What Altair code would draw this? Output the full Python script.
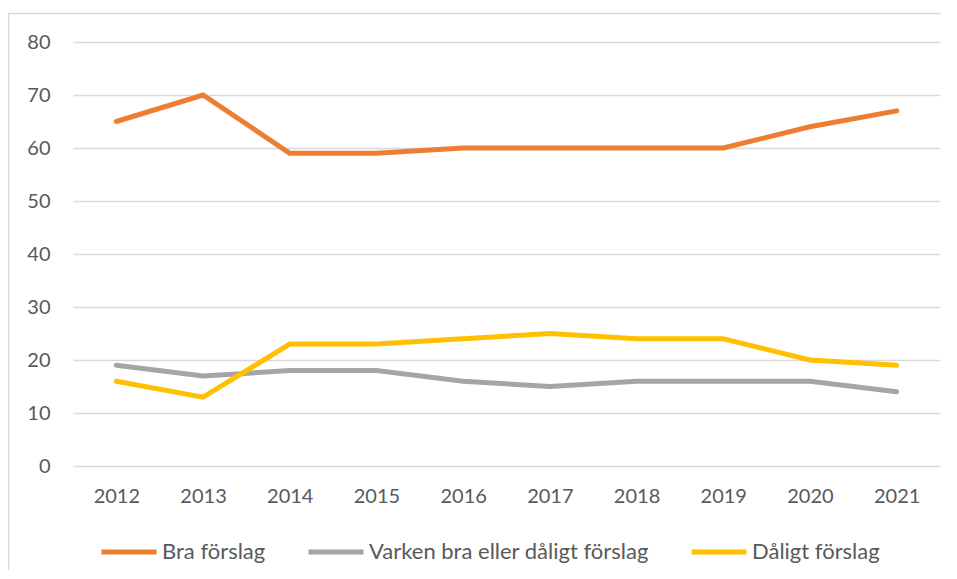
import altair as alt
import pandas as pd

years = ["2012", "2013", "2014", "2015", "2016", "2017", "2018", "2019", "2020", "2021"]
series_names = ["Bra förslag", "Varken bra eller dåligt förslag", "Dåligt förslag"]
bra = [65, 70, 59, 59, 60, 60, 60, 60, 64, 67]
varken = [19, 17, 18, 18, 16, 15, 16, 16, 16, 14]
daligt = [16, 13, 23, 23, 24, 25, 24, 24, 20, 19]
colors = ["#ED7D31", "#A5A5A5", "#FFC000"]
y_ticks = [0, 10, 20, 30, 40, 50, 60, 70, 80]

rows = []
for name, vals in zip(series_names, [bra, varken, daligt]):
    for yr, v in zip(years, vals):
        rows.append({"year": yr, "value": v, "series": name})
df = pd.DataFrame(rows)

FONT = "Lato"
W, H = 867, 424

frame = alt.Chart(pd.DataFrame({"a": [0]})).mark_rect(
    fill=None, stroke="#d9d9d9", strokeWidth=1.5, clip=False
).encode(
    x=alt.value(-64.5), x2=alt.value(W + 40), y=alt.value(-28.5), y2=alt.value(H + 200)
)

lines = alt.Chart(df).mark_line(strokeWidth=5, strokeCap="round", strokeJoin="miter").encode(
    x=alt.X("year:O", sort=years, scale=alt.Scale(type="point", padding=0.5),
            axis=alt.Axis(title=None, labelAngle=0, labelFontSize=20, labelColor="#595959",
                          labelFont=FONT, labelPadding=20, ticks=False, domain=False, grid=False)),
    y=alt.Y("value:Q", scale=alt.Scale(domain=[0, 80], nice=False),
            axis=alt.Axis(title=None, values=y_ticks, labelFontSize=20, labelColor="#595959",
                          labelFont=FONT, labelPadding=23, ticks=False, domain=False,
                          gridColor="#d9d9d9", gridWidth=1.3)),
    color=alt.Color("series:N", sort=series_names,
                    scale=alt.Scale(domain=series_names, range=colors),
                    legend=alt.Legend(title=None, orient="none", direction="horizontal",
                                      legendX=26, legendY=480, symbolType="stroke",
                                      symbolSize=3025, symbolStrokeWidth=5,
                                      labelFontSize=22, labelFont=FONT, labelColor="#595959",
                                      labelLimit=600, labelOffset=3, columnPadding=32,
                                      padding=0)),
    detail="series:N",
)

chart = alt.layer(frame, lines).properties(
    width=W, height=H,
    background="white",
    autosize=alt.AutoSizeParams(type="none"),
    padding={"left": 65, "top": 34, "right": 1, "bottom": 104},
).configure_view(stroke=None)

chart.save("out.html", embed_options={"renderer": "svg", "actions": False})
